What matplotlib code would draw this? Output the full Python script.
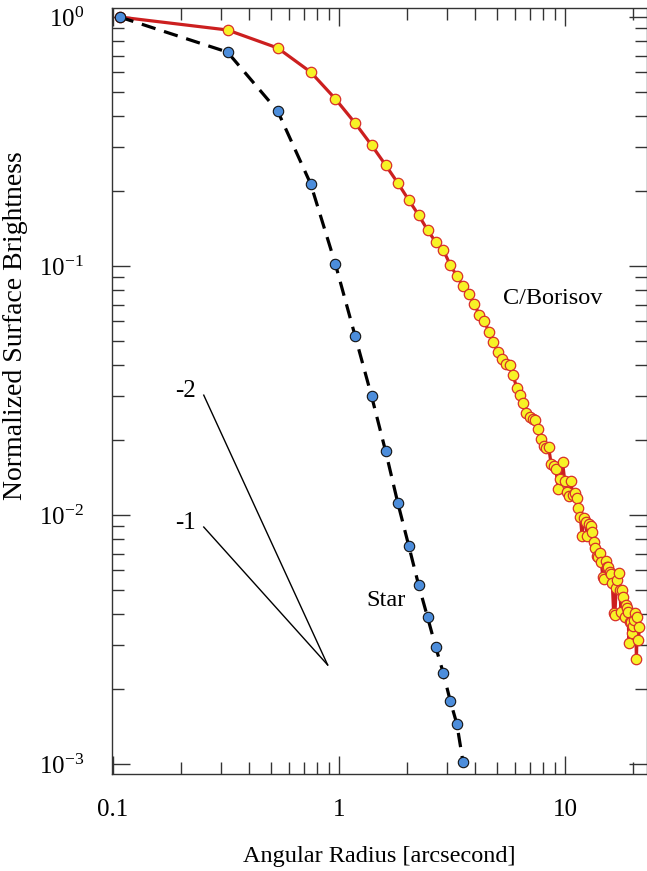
import matplotlib
matplotlib.use('Agg')
import matplotlib.pyplot as plt
from matplotlib.ticker import LogLocator, NullFormatter, FixedLocator, FixedFormatter

plt.rcParams['font.family'] = ['Liberation Serif', 'DejaVu Serif']
plt.rcParams['mathtext.fontset'] = 'custom'
plt.rcParams['mathtext.rm'] = 'Liberation Serif'
plt.rcParams['axes.unicode_minus'] = False

# radius [arcsec] of the annuli
radius = [0.107, 0.321, 0.535, 0.749, 0.963, 1.177, 1.391, 1.605, 1.819, 2.033,
          2.247, 2.461, 2.675, 2.889, 3.103, 3.317, 3.531, 3.745, 3.959, 4.173,
          4.387, 4.601, 4.815, 5.029, 5.243, 5.457, 5.671, 5.885, 6.099, 6.313,
          6.527, 6.741, 6.955, 7.169, 7.383, 7.597, 7.811, 8.025, 8.239, 8.453,
          8.667, 8.881, 9.095, 9.309, 9.523, 9.737, 9.951, 10.165, 10.379, 10.593,
          10.807, 11.021, 11.235, 11.449, 11.663, 11.877, 12.091, 12.305, 12.519, 12.733,
          12.947, 13.161, 13.375, 13.589, 13.803, 14.017, 14.231, 14.445, 14.659, 14.873,
          15.087, 15.301, 15.515, 15.729, 15.943, 16.157, 16.371, 16.585, 16.799, 17.013,
          17.227, 17.441, 17.655, 17.869, 18.083, 18.297, 18.511, 18.725, 18.939, 19.153,
          19.367, 19.581, 19.795, 20.009, 20.223, 20.437, 20.651, 20.865, 21.079, 21.293]

borisov = [1.0, 0.887, 0.751, 0.601, 0.469, 0.375, 0.306, 0.2545, 0.2154, 0.184,
           0.1603, 0.1395, 0.1248, 0.1160, 0.1009, 0.0912, 0.0831, 0.0772, 0.0704, 0.0636,
           0.0601, 0.0543, 0.0495, 0.0451, 0.0423, 0.0404, 0.0400, 0.0365, 0.0324, 0.0303,
           0.0282, 0.0257, 0.0247, 0.0243, 0.0241, 0.0221, 0.0202, 0.0189, 0.0186, 0.0187,
           0.0160, 0.0157, 0.0153, 0.0127, 0.0139, 0.0163, 0.0137, 0.0124, 0.0119, 0.0137,
           0.0120, 0.0123, 0.0117, 0.0107, 0.00982, 0.00823, 0.00973, 0.00937, 0.00823, 0.00920,
           0.00903, 0.00854, 0.00779, 0.00737, 0.00684, 0.00678, 0.00704, 0.00648, 0.00564, 0.00553,
           0.00654, 0.00618, 0.00618, 0.00590, 0.00580, 0.00533, 0.00404, 0.00397, 0.00509, 0.00548,
           0.00585, 0.00500, 0.00408, 0.00500, 0.00468, 0.00389, 0.00435, 0.00423, 0.00408, 0.00306,
           0.00372, 0.00372, 0.00336, 0.00358, 0.00379, 0.00404, 0.00264, 0.00389, 0.00315, 0.00355]

star = [1.0, 0.723, 0.419, 0.2135, 0.1018, 0.0524, 0.0301, 0.01807, 0.01117, 0.00752,
        0.00524, 0.00389, 0.00295, 0.00232, 0.00179, 0.00145, 0.00102]

# power law guide lines, slopes -2 and -1
guide_x = [0.252, 0.89]
guide_m2 = [0.0303, 0.0025]
guide_m1 = [0.00895, 0.0025]

xticks = [0.1, 1, 10]
xticklabels = ['0.1', '1', '10']
yticks = [1e-3, 1e-2, 1e-1, 1]
yticklabels = [r'$\mathregular{10^{-3}}$', r'$\mathregular{10^{-2}}$',
               r'$\mathregular{10^{-1}}$', r'$\mathregular{10^{0}}$']

fig = plt.figure(figsize=(6.47, 8.71), dpi=100)
ax = fig.add_axes([112/647, 97/871, 1 - 112/647, (774 - 8)/871])

ax.plot(radius, borisov, color='#cc1f1f', lw=2.3, zorder=2)
ax.plot(radius, borisov, ls='none', marker='o', ms=7.5, mfc='#f7f226',
        mec='#d8302a', mew=0.9, zorder=3)
ax.plot(radius[:len(star)], star, color='black', lw=2.3, ls=(0, (4.5, 2.8)), zorder=4)
ax.plot(radius[:len(star)], star, ls='none', marker='o', ms=7.5, mfc='#4c8ddb',
        mec='#111111', mew=0.8, zorder=5)

ax.plot(guide_x, guide_m2, color='black', lw=1.0)
ax.plot(guide_x, guide_m1, color='black', lw=1.0)
ax.text(0.232, 0.0315, '-2', fontsize=18, ha='right', va='center')
ax.text(0.232, 0.0093, '-1', fontsize=18, ha='right', va='center')
ax.text(5.32, 0.0744, 'C/Borisov', fontsize=17.5, ha='left', va='center')
ax.text(1.62, 0.00452, 'Star', fontsize=17.5, ha='center', va='center')

ax.set_xscale('log')
ax.set_yscale('log')
ax.set_xlim(0.099, 23.0)
ax.set_ylim(0.000912, 1.087)

ax.xaxis.set_major_locator(FixedLocator(xticks))
ax.xaxis.set_major_formatter(FixedFormatter(xticklabels))
ax.xaxis.set_minor_locator(LogLocator(base=10, subs=range(2, 10)))
ax.xaxis.set_minor_formatter(NullFormatter())
ax.yaxis.set_major_locator(FixedLocator(yticks))
ax.yaxis.set_major_formatter(FixedFormatter(yticklabels))
ax.yaxis.set_minor_locator(LogLocator(base=10, subs=range(2, 10)))
ax.yaxis.set_minor_formatter(NullFormatter())

ax.tick_params(which='both', direction='in', top=True, right=True,
               color='#333333', width=1.0, labelsize=18)
ax.tick_params(which='major', length=13)
ax.tick_params(which='minor', length=8.5)
ax.tick_params(axis='y', pad=20)
ax.tick_params(axis='x', pad=18)
for s in ax.spines.values():
    s.set_color('#333333')
    s.set_linewidth(1.0)

ax.set_xlabel('Angular Radius [arcsecond]', fontsize=17.5, labelpad=18)
ax.set_ylabel('Normalized Surface Brightness', fontsize=20)
ax.yaxis.set_label_coords(-0.157, 0.585)

fig.savefig('out.png', dpi=100)
